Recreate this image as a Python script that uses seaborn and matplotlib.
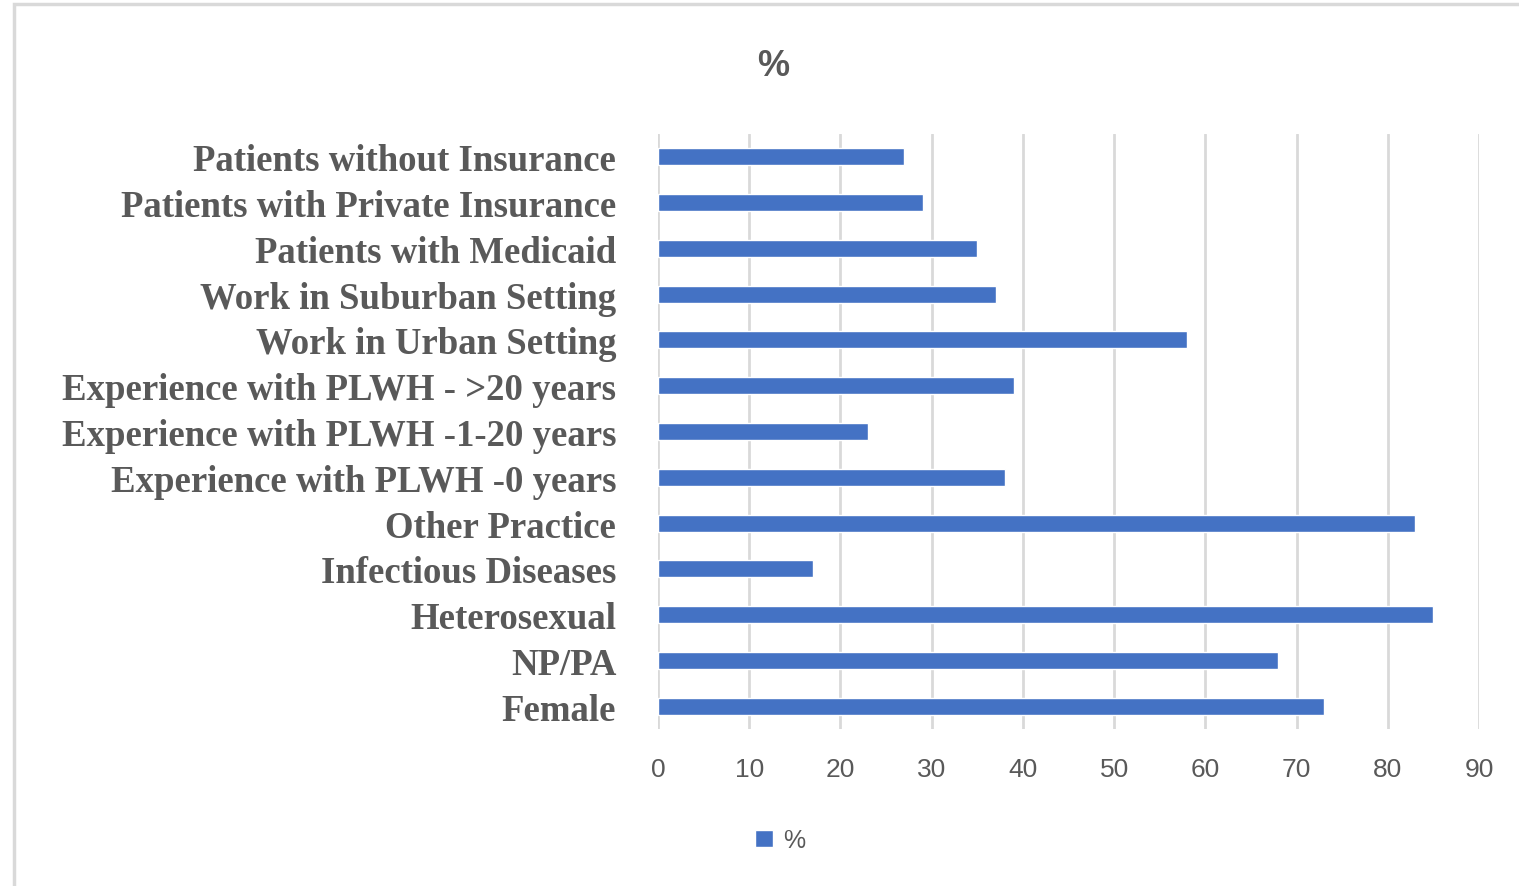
import matplotlib
matplotlib.use("Agg")
import matplotlib.pyplot as plt
from matplotlib.patches import Rectangle
import seaborn as sns
import pandas as pd

categories = [
    "Patients without Insurance",
    "Patients with Private Insurance",
    "Patients with Medicaid",
    "Work in Suburban Setting",
    "Work in Urban Setting",
    "Experience with PLWH - >20 years",
    "Experience with PLWH -1-20 years",
    "Experience with PLWH -0 years",
    "Other Practice",
    "Infectious Diseases",
    "Heterosexual",
    "NP/PA",
    "Female",
]
values = [27, 29, 35, 37, 58, 39, 23, 38, 83, 17, 85, 68, 73]
x_ticks = [0, 10, 20, 30, 40, 50, 60, 70, 80, 90]
series_name = "%"

df = pd.DataFrame({"category": categories, "value": values})

sns.set_theme(style="white")
bar_color = "#4472C4"
grid_color = "#D9D9D9"
text_color = "#595959"
sans = ["Liberation Sans Narrow", "Liberation Sans", "DejaVu Sans"]

fig = plt.figure(figsize=(15.19, 8.87), dpi=100)
ax = fig.add_axes([658 / 1519, 1 - 730 / 887, (1479 - 658) / 1519, (730 - 135) / 887])

sns.barplot(data=df, x="value", y="category", orient="h", color=bar_color,
            width=0.37, saturation=1, ax=ax, label=series_name)

ax.set_xlim(0, 90)
ax.set_ylim(len(categories) - 0.5, -0.5)
ax.set_xticks(x_ticks)
ax.set_xticklabels([str(t) for t in x_ticks], fontsize=19, color=text_color,
                   family=sans)
ax.set_yticks(range(len(categories)))
ax.set_yticklabels(categories, fontsize=26.5, fontweight="bold", color=text_color,
                   family=["Liberation Serif", "DejaVu Serif"])
ax.tick_params(axis="x", length=0, pad=20)
ax.tick_params(axis="y", length=0, pad=30)
ax.set_xlabel("")
ax.set_ylabel("")
ax.set_axisbelow(True)
ax.xaxis.grid(True, color=grid_color, linewidth=2)
ax.yaxis.grid(False)
for s in ax.spines.values():
    s.set_visible(False)

fig.text(773 / 1519, 1 - 67 / 887, series_name, ha="center", va="center",
         fontsize=26, fontweight="bold", color=text_color, family=sans)

leg = ax.legend(loc="center", bbox_to_anchor=(780 / 1519, 1 - 841 / 887),
                bbox_transform=fig.transFigure, frameon=False,
                handlelength=0.7, handleheight=0.7, handletextpad=0.4,
                prop={"family": sans, "size": 18})
for t in leg.get_texts():
    t.set_color(text_color)

# outer chart frame
fig.patches.append(Rectangle((14 / 1519, -0.05), 1.2, 1 - 5 / 887 + 0.05,
                             transform=fig.transFigure, fill=False,
                             edgecolor="#D9D9D9", linewidth=2.5))

fig.savefig("out.png", dpi=100)
